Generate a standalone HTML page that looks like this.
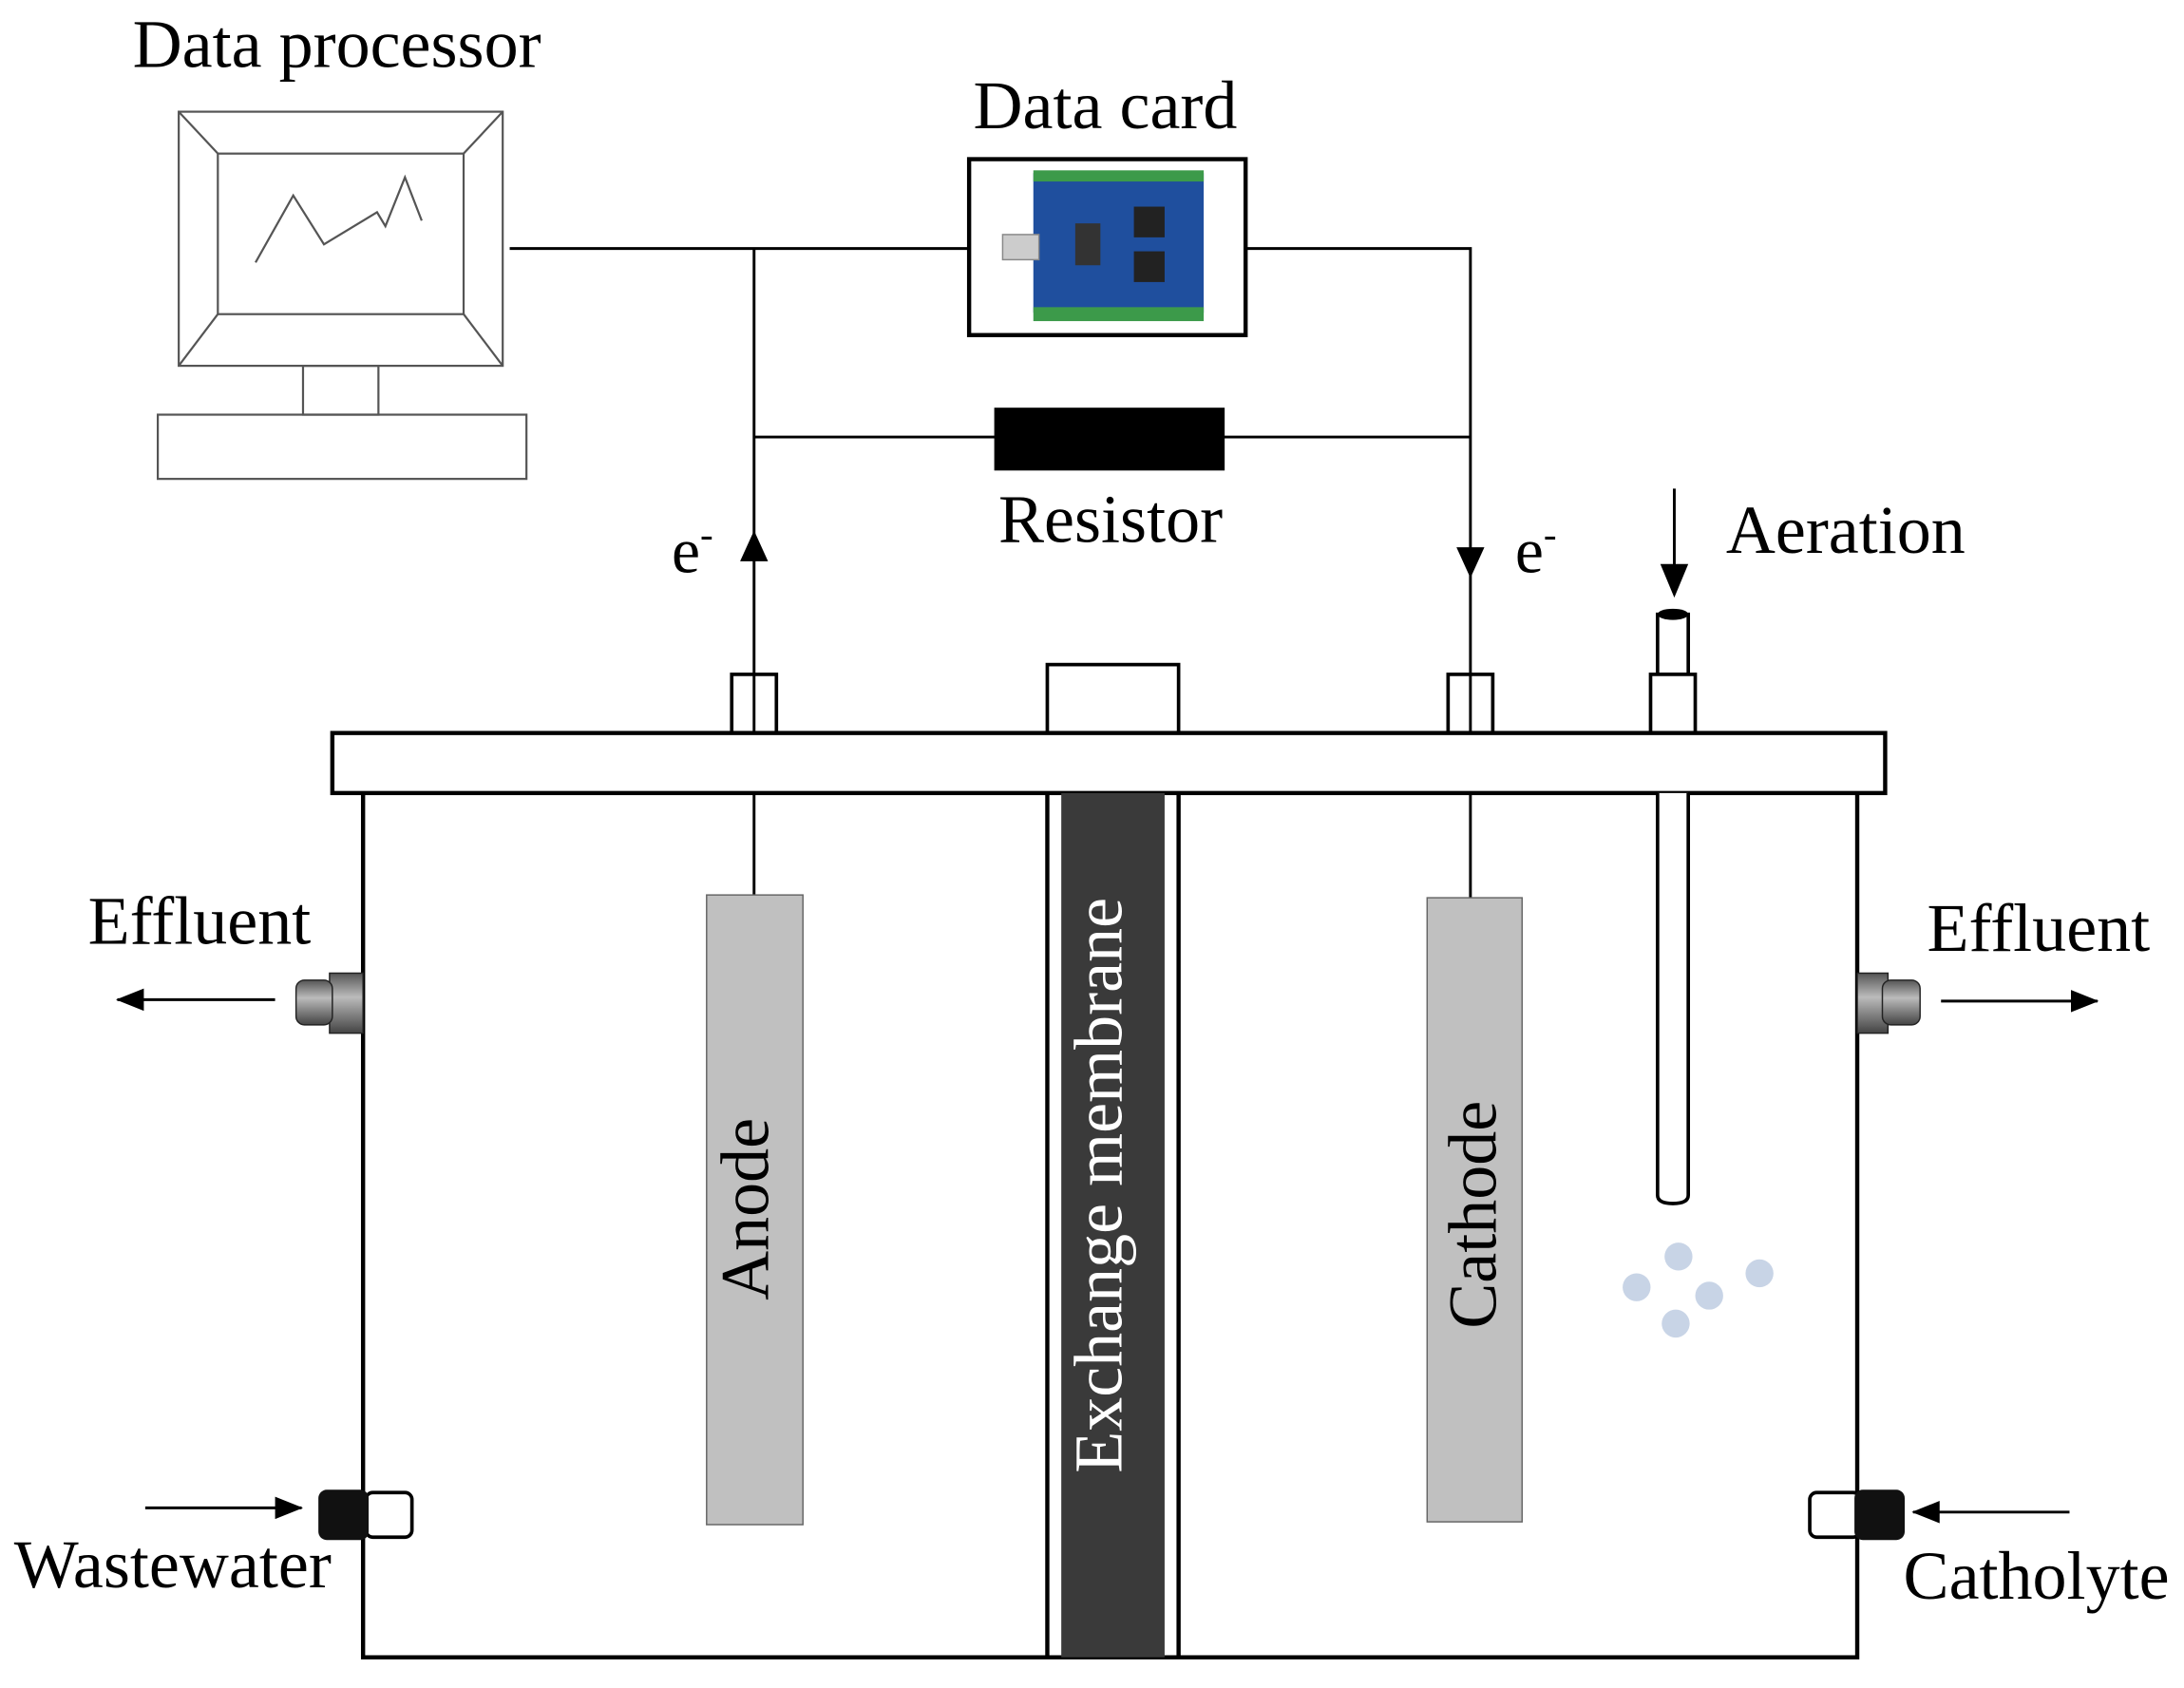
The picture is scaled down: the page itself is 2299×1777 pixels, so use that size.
<!DOCTYPE html>
<html><head><meta charset="utf-8">
<style>
html,body{margin:0;padding:0;background:#fff;}
svg{display:block;}
text{font-family:"Liberation Serif",serif;fill:#000;}
</style></head>
<body>
<svg width="2299" height="1777" viewBox="0 0 1564 1209" preserveAspectRatio="none" xmlns="http://www.w3.org/2000/svg">
<defs>
<marker id="ah2" markerWidth="20" markerHeight="16" refX="19" refY="8" orient="auto" markerUnits="userSpaceOnUse">
<path d="M0,0 L20,8 L0,16 Z" fill="#000"/>
</marker>
<linearGradient id="cyl" x1="0" y1="0" x2="0" y2="1">
<stop offset="0" stop-color="#555"/><stop offset="0.4" stop-color="#bbb"/><stop offset="1" stop-color="#444"/>
</linearGradient>
</defs>

<text x="95" y="48" font-size="49">Data processor</text>
<g fill="none" stroke="#555" stroke-width="1.5">
<rect x="128" y="80" width="232" height="182" fill="#fff"/>
<rect x="156" y="110" width="176" height="115"/>
<line x1="128" y1="80" x2="156" y2="110"/><line x1="360" y1="80" x2="332" y2="110"/>
<line x1="128" y1="262" x2="156" y2="225"/><line x1="360" y1="262" x2="332" y2="225"/>
<polyline points="183,188 210,140 232,175 270,152 276,162 290,127 302,158"/>
<rect x="217" y="262" width="54" height="35"/>
<rect x="113" y="297" width="264" height="46"/>
</g>

<text x="697" y="92" font-size="49">Data card</text>
<rect x="694" y="114" width="198" height="126" fill="#fff" stroke="#000" stroke-width="3"/>
<rect x="740" y="124" width="122" height="100" fill="#1f4f9e"/>
<rect x="740" y="122" width="122" height="8" fill="#3c9a4a"/>
<rect x="740" y="220" width="122" height="10" fill="#3c9a4a"/>
<rect x="718" y="168" width="26" height="18" fill="#ccc" stroke="#888"/>
<rect x="812" y="148" width="22" height="22" fill="#222"/>
<rect x="812" y="180" width="22" height="22" fill="#222"/>
<rect x="770" y="160" width="18" height="30" fill="#333"/>

<g stroke="#000" stroke-width="2" fill="none">
<line x1="365" y1="178" x2="694" y2="178"/>
<polyline points="892,178 1053,178 1053,483"/>
<line x1="540" y1="178" x2="540" y2="483"/>
<line x1="540" y1="313" x2="1053" y2="313"/>
<line x1="540" y1="568" x2="540" y2="641"/>
<line x1="1053" y1="568" x2="1053" y2="643"/>
</g>
<path d="M540,380 L530,402 L550,402 Z" fill="#000"/>
<path d="M1053,414 L1043,392 L1063,392 Z" fill="#000"/>
<rect x="712" y="292" width="165" height="45" fill="#000"/>
<text x="715" y="388" font-size="49">Resistor</text>
<text x="481" y="410" font-size="46">e<tspan font-size="28" dy="-18">-</tspan></text>
<text x="1085" y="410" font-size="46">e<tspan font-size="28" dy="-18">-</tspan></text>

<line x1="1199" y1="350" x2="1199" y2="408" stroke="#000" stroke-width="2"/>
<path d="M1199,428 L1189,404 L1209,404 Z" fill="#000"/>
<text x="1236" y="396" font-size="49">Aeration</text>

<g fill="#fff" stroke="#000" stroke-width="2.5">
<rect x="524" y="483" width="32" height="42"/>
<rect x="1037" y="483" width="32" height="42"/>
<rect x="750" y="476" width="94" height="49"/>
<rect x="1187" y="440" width="22" height="43"/>
<rect x="1182" y="483" width="32" height="42"/>
</g>
<ellipse cx="1198" cy="440" rx="11" ry="4" fill="#000"/>
<line x1="540" y1="483" x2="540" y2="525" stroke="#000" stroke-width="2"/>
<line x1="1053" y1="483" x2="1053" y2="525" stroke="#000" stroke-width="2"/>

<rect x="238" y="525" width="1112" height="43" fill="#fff" stroke="#000" stroke-width="3"/>

<polyline points="260,568 260,1187 1330,1187 1330,568" fill="none" stroke="#000" stroke-width="3"/>
<rect x="760" y="568" width="74" height="619" fill="#3a3a3a"/>
<line x1="750" y1="568" x2="750" y2="1187" stroke="#000" stroke-width="3"/>
<line x1="844" y1="568" x2="844" y2="1187" stroke="#000" stroke-width="3"/>
<text transform="translate(803,849) rotate(-90)" text-anchor="middle" font-size="49" style="fill:#fff">Exchange membrane</text>

<rect x="506" y="641" width="69" height="451" fill="#c0c0c0" stroke="#666" stroke-width="1"/>
<text transform="translate(550,866) rotate(-90)" text-anchor="middle" font-size="49">Anode</text>
<rect x="1022" y="643" width="68" height="447" fill="#c0c0c0" stroke="#666" stroke-width="1"/>
<text transform="translate(1071,870) rotate(-90)" text-anchor="middle" font-size="49">Cathode</text>

<path d="M1187,568 L1187,856 Q1187,862 1198,862 Q1209,862 1209,856 L1209,568" fill="#fff" stroke="#000" stroke-width="2.5"/>
<g fill="#c8d4e6">
<circle cx="1172" cy="922" r="10"/><circle cx="1202" cy="900" r="10"/><circle cx="1224" cy="928" r="10"/>
<circle cx="1260" cy="912" r="10"/><circle cx="1200" cy="948" r="10"/>
</g>

<text x="63" y="676" font-size="49">Effluent</text>
<rect x="236" y="697" width="24" height="43" fill="url(#cyl)" stroke="#222"/>
<rect x="212" y="702" width="26" height="32" rx="6" fill="url(#cyl)" stroke="#222"/>
<line x1="197" y1="716" x2="84" y2="716" stroke="#000" stroke-width="2" marker-end="url(#ah2)"/>

<text x="1380" y="681" font-size="49">Effluent</text>
<rect x="1330" y="697" width="22" height="43" fill="url(#cyl)" stroke="#222"/>
<rect x="1348" y="702" width="27" height="32" rx="6" fill="url(#cyl)" stroke="#222"/>
<line x1="1390" y1="717" x2="1502" y2="717" stroke="#000" stroke-width="2" marker-end="url(#ah2)"/>

<line x1="104" y1="1080" x2="216" y2="1080" stroke="#000" stroke-width="2" marker-end="url(#ah2)"/>
<rect x="262" y="1069" width="33" height="32" rx="5" fill="#fff" stroke="#000" stroke-width="2.5"/>
<rect x="228" y="1067" width="36" height="36" rx="6" fill="#111"/>
<text x="10" y="1137" font-size="49">Wastewater</text>

<line x1="1482" y1="1083" x2="1370" y2="1083" stroke="#000" stroke-width="2" marker-end="url(#ah2)"/>
<rect x="1296" y="1069" width="36" height="32" rx="5" fill="#fff" stroke="#000" stroke-width="2.5"/>
<rect x="1328" y="1067" width="36" height="36" rx="6" fill="#111"/>
<text x="1363" y="1145" font-size="49">Catholyte</text>
</svg>
</body></html>
